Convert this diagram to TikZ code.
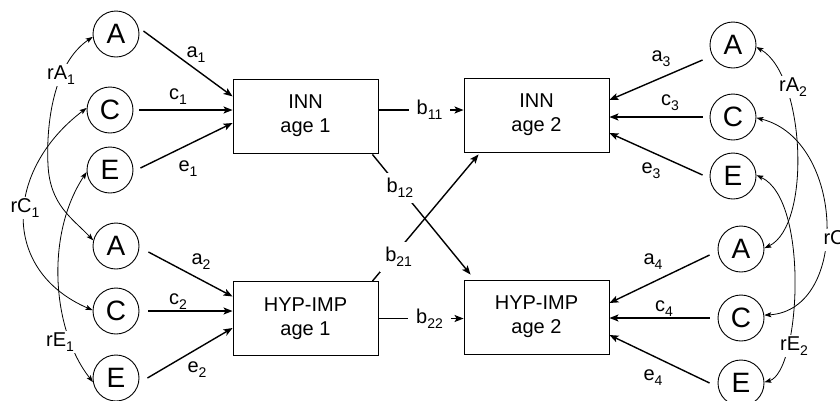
\documentclass[tikz,border=0pt]{standalone}
\usepackage{fontspec}
\setmainfont{Liberation Sans}
\usetikzlibrary{arrows.meta,calc}
\newcommand{\sbs}[1]{\raisebox{-0.25em}{\fontsize{14}{14}\selectfont #1}}
\begin{document}
\begin{tikzpicture}[x=1pt,y=-1pt,
  latent/.style={circle,draw,line width=0.9pt,minimum size=46pt,inner sep=0pt,font=\fontsize{28}{28}\selectfont},
  var/.style={rectangle,draw,line width=0.9pt,minimum width=145pt,minimum height=74pt,align=center,font=\fontsize{20}{24}\selectfont},
  lbl/.style={font=\fontsize{20}{20}\selectfont,inner sep=1pt},
  path/.style={line width=1.4pt,-{Stealth[length=9pt,width=7pt,inset=2pt]}},
  cov/.style={line width=0.8pt,{Stealth[length=7pt,width=5pt,inset=1.5pt]}-{Stealth[length=7pt,width=5pt,inset=1.5pt]}},
  coef/.style={lbl,fill=white,inner xsep=8pt,inner ysep=3pt},
  coefd/.style={lbl,fill=white,inner sep=5pt},
  corr/.style={lbl,fill=white,inner sep=2pt}
]
\useasboundingbox (0,0) rectangle (840,400);
% latent circles
\node[latent] (a1c) at (116,34) {A};
\node[latent] (c1c) at (110,110) {C};
\node[latent] (e1c) at (110,170) {E};
\node[latent] (a2c) at (116,246) {A};
\node[latent] (c2c) at (116,311) {C};
\node[latent] (e2c) at (116,378) {E};
\node[latent] (a3c) at (733,45) {A};
\node[latent] (c3c) at (733,117) {C};
\node[latent] (e3c) at (733,176) {E};
\node[latent] (a4c) at (741,249) {A};
\node[latent] (c4c) at (741,318) {C};
\node[latent] (e4c) at (741,383) {E};
% observed boxes
\node[var] (inn1) at (305.5,116) {INN\\age 1};
\node[var] (inn2) at (536.5,115) {INN\\age 2};
\node[var] (hyp1) at (305.5,318.5) {HYP-IMP\\age 1};
\node[var] (hyp2) at (536.5,317) {HYP-IMP\\age 2};
% left paths
\draw[path] ([xshift=4pt,yshift=3pt]a1c.east) -- ([yshift=19.6pt]inn1.west);
\draw[path] ([xshift=6pt]c1c.east) -- (c1c.east -| inn1.west);
\draw[path] ([xshift=7pt,yshift=2pt]e1c.east) -- ([yshift=-7pt]inn1.west);
\draw[path] ([xshift=9pt,yshift=-6pt]a2c.east) -- ([yshift=22pt]hyp1.west);
\draw[path] ([xshift=9pt]c2c.east) -- (c2c.east -| hyp1.west);
\draw[path] ([xshift=8pt]e2c.east) -- ([yshift=-9.5pt]hyp1.west);
% right paths
\draw[path] ([xshift=-7pt,yshift=-15pt]a3c.west) -- ([yshift=15pt]inn2.east);
\draw[path] ([xshift=-7pt]c3c.west) -- (c3c.west -| inn2.east);
\draw[path] ([xshift=-7pt,yshift=1pt]e3c.west) -- ([yshift=-18pt]inn2.east);
\draw[path] ([xshift=-8pt,yshift=-6pt]a4c.west) -- ([yshift=14pt]hyp2.east);
\draw[path] ([xshift=-8pt]c4c.west) -- (c4c.west -| hyp2.east);
\draw[path] ([xshift=-8pt]e4c.west) -- ([yshift=-18pt]hyp2.east);
% cross-lagged paths
\draw[path] ([yshift=6pt]inn1.east) -- ([yshift=6pt]inn1.east -| inn2.west) node[coef,pos=0.6] (b11) {b\sbs{11}};
\draw[path] (hyp1.east) -- (hyp1.east -| hyp2.west) node[coef,pos=0.6] (b22) {b\sbs{22}};
\draw[path] ([xshift=-6pt,yshift=-1pt]inn1.south east) -- ([xshift=7pt,yshift=5pt]hyp2.north west) node[coefd,pos=0.28] (b12) {b\sbs{12}};
\draw[path] ([xshift=-6pt]hyp1.north east) -- ([xshift=15pt,yshift=-2pt]inn2.south west) node[coefd,pos=0.19,xshift=6pt] (b21) {b\sbs{21}};
% path labels
\node[lbl] (la1) at (196,55) {a\sbs{1}};
\node[lbl] (lc1) at (178,97) {c\sbs{1}};
\node[lbl] (le1) at (188,169) {e\sbs{1}};
\node[lbl] (la2) at (201,262) {a\sbs{2}};
\node[lbl] (lc2) at (178,302) {c\sbs{2}};
\node[lbl] (le2) at (197,370) {e\sbs{2}};
\node[lbl] (la3) at (661,59) {a\sbs{3}};
\node[lbl] (lc3) at (670,103) {c\sbs{3}};
\node[lbl] (le3) at (651,171) {e\sbs{3}};
\node[lbl] (la4) at (653,262) {a\sbs{4}};
\node[lbl] (lc4) at (664,309) {c\sbs{4}};
\node[lbl] (le4) at (653,378) {e\sbs{4}};
% correlations
\draw[cov] (a2c.166) .. controls (72,218) and (50,205) .. (48,165) .. controls (46,125) and (53,64) .. (a1c.187);
\draw[cov] (c2c.178) .. controls (0,270) and (5,170) .. (c1c.175);
\draw[cov] (e2c.190) .. controls (52,330) and (45,235) .. (e1c.185);
\draw[cov] (a4c.2) .. controls (812,225) and (805,75) .. (a3c.355);
\draw[cov] (c4c.7) .. controls (850,310) and (845,140) .. (c3c.358);
\draw[cov] (e4c.2) .. controls (800,372) and (810,200) .. (e3c.2);
\node[corr] (rA1) at (61,75) {rA\sbs{1}};
\node[corr] (rC1) at (25,208) {rC\sbs{1}};
\node[corr] (rE1) at (60,342) {rE\sbs{1}};
\node[corr] (rA2) at (793,87) {rA\sbs{2}};
\node[corr] (rC2) at (838,240) {rC\sbs{2}};
\node[corr] (rE2) at (794,346) {rE\sbs{2}};
\end{tikzpicture}
\end{document}
